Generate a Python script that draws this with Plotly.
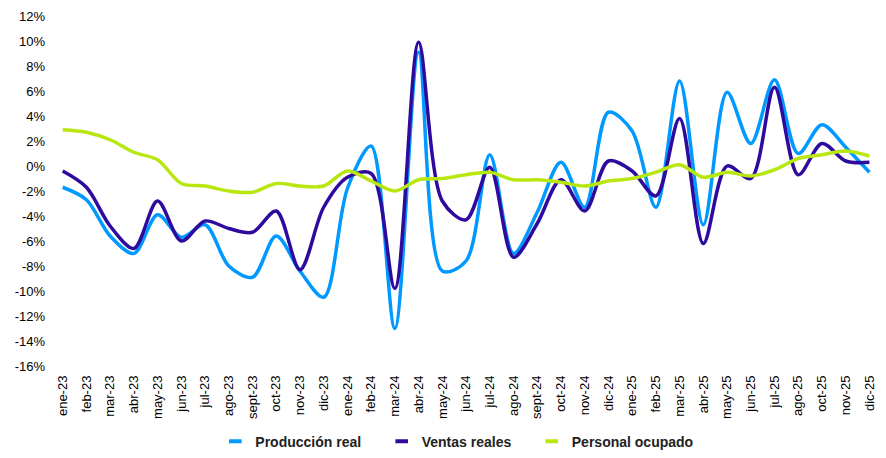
import plotly.graph_objects as go

meses = ['ene-23', 'feb-23', 'mar-23', 'abr-23', 'may-23', 'jun-23', 'jul-23', 'ago-23', 'sept-23',
         'oct-23', 'nov-23', 'dic-23', 'ene-24', 'feb-24', 'mar-24', 'abr-24', 'may-24', 'jun-24',
         'jul-24', 'ago-24', 'sept-24', 'oct-24', 'nov-24', 'dic-24', 'ene-25', 'feb-25', 'mar-25',
         'abr-25', 'may-25', 'jun-25', 'jul-25', 'ago-25', 'oct-25', 'nov-25', 'dic-25']

produccion_real = [-1.7, -2.7, -5.6, -7.0, -3.9, -5.7, -4.7, -8.0, -8.9, -5.6, -8.4, -10.5,
                   -1.8, 1.6, -13.0, 9.1, -8.4, -7.6, 0.9, -7.0, -3.7, 0.3, -3.3, 4.3,
                   2.8, -3.3, 6.8, -4.7, 5.9, 1.8, 6.9, 1.0, 3.3, 1.5, -0.5]

ventas_reales = [-0.4, -1.7, -4.8, -6.6, -2.8, -6.0, -4.4, -5.0, -5.3, -3.6, -8.3, -3.3,
                 -0.9, -0.6, -9.8, 9.9, -2.8, -4.3, -0.1, -7.3, -4.6, -1.1, -3.6, 0.4,
                 -0.4, -2.4, 3.8, -6.2, 0.0, -1.0, 6.3, -0.7, 1.8, 0.4, 0.3]

personal_ocupado = [2.9, 2.7, 2.1, 1.1, 0.5, -1.4, -1.6, -2.0, -2.1, -1.4, -1.6, -1.6,
                    -0.4, -1.2, -2.0, -1.1, -1.0, -0.7, -0.5, -1.1, -1.1, -1.3, -1.6, -1.2,
                    -1.0, -0.5, 0.1, -0.9, -0.5, -0.8, -0.3, 0.6, 0.9, 1.2, 0.8]

y_ticks = [12, 10, 8, 6, 4, 2, 0, -2, -4, -6, -8, -10, -12, -14, -16]
y_labels = ['12%', '10%', '8%', '6%', '4%', '2%', '0%', '-2%', '-4%', '-6%', '-8%', '-10%',
            '-12%', '-14%', '-16%']

series = [('Producción real', produccion_real, '#0099FF'),
          ('Ventas reales', ventas_reales, '#2E0A9E'),
          ('Personal ocupado', personal_ocupado, '#B7E70F')]

fig = go.Figure()
for nombre, valores, color in series:
    fig.add_trace(go.Scatter(x=list(range(len(meses))), y=valores, name=nombre, mode='lines',
                             showlegend=False,
                             line=dict(color=color, width=3.5, shape='spline', smoothing=0.9)))
# legend entries with short dash symbols, like the original
for nombre, valores, color in series:
    fig.add_trace(go.Scatter(x=[None], y=[None], name=nombre + '    ', mode='markers',
                             marker=dict(symbol='line-ew', size=9, color=color,
                                         line=dict(color=color, width=4))))

# page body has an 8px margin, so the figure is 8px smaller than the window
fig.update_layout(width=878,
                  height=450,
                  margin=dict(l=44, r=0, t=8, b=92),
                  paper_bgcolor='white',
                  plot_bgcolor='white',
                  font=dict(family='Liberation Sans, Arial, sans-serif', size=13, color='black'),
                  hovermode=False,
                  legend=dict(orientation='h', x=0.495, xanchor='center', y=-0.262, yanchor='bottom',
                              font=dict(size=14, color='#222222', weight='bold'),
                              itemwidth=30, traceorder='normal'),
                  xaxis=dict(range=[-0.45, 34.7], tickmode='array', tickvals=list(range(len(meses))),
                             ticktext=meses, tickangle=-90, showgrid=False, zeroline=False,
                             showline=False, ticks='', automargin=False, ticklabeloverflow='allow',
                             ticklabelstandoff=6, tickfont=dict(size=13, color='black')),
                  yaxis=dict(range=[-16, 12], tickmode='array', tickvals=y_ticks, ticktext=y_labels,
                             showgrid=False, zeroline=False, showline=False, ticks='', automargin=False,
                             ticklabelstandoff=6, tickfont=dict(size=13, color='black')))

fig.write_html("out.html")
